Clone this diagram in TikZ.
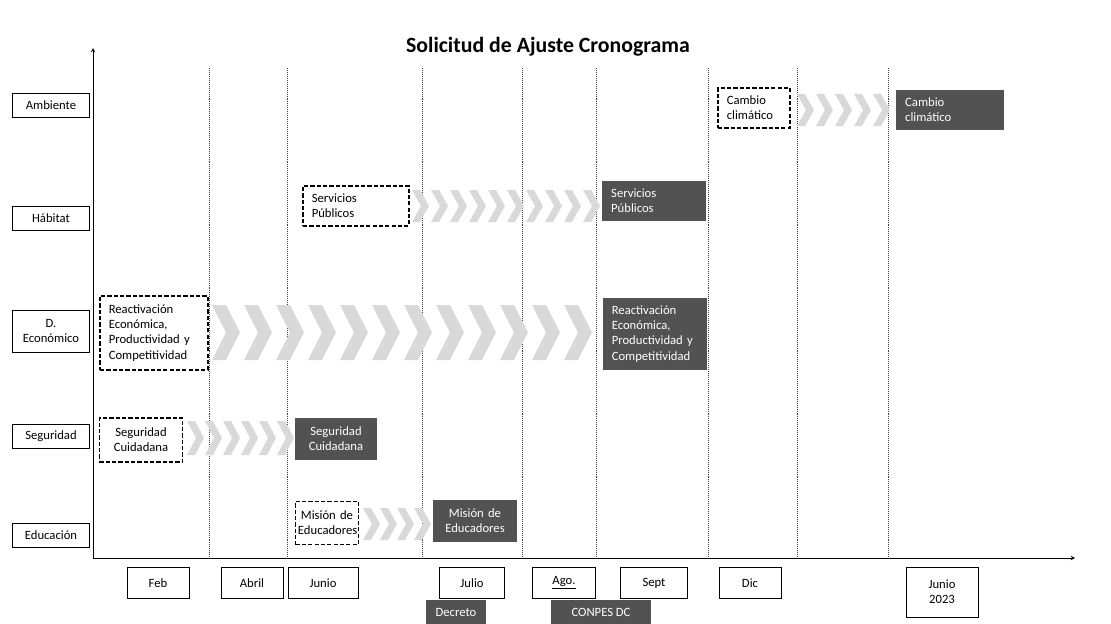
\documentclass[tikz,border=0pt]{standalone}
\usepackage{fontspec}
\setmainfont{Carlito}
\usepackage{tikz}

\begin{document}
\begin{tikzpicture}[x=0.025cm, y=-0.025cm,
  font=\fontsize{9}{10.8}\selectfont,
  rowbox/.style={draw, thin, minimum width=1.93cm, minimum height=0.6cm, align=center},
  monthbox/.style={draw, thin, minimum width=1.55cm, minimum height=0.78cm, align=center},
  planbox/.style={draw, thick, dash pattern=on 3pt off 1.5pt, inner xsep=0.22cm, align=left},
  donebox/.style={fill=black!68, text=white, inner xsep=0.22cm, align=left},
  chev/.style={fill=gray!30},
  month line/.style={densely dotted, thin, black!75}]
\useasboundingbox (0,0) rectangle (1111,624);

\node (title) at (548,47) {\fontsize{15.5}{18}\selectfont\bfseries Solicitud de Ajuste Cronograma};

% Axes.
\coordinate (origin) at (93,558);
\coordinate (ytop) at (93,48);
\coordinate (xend) at (1075,558);
\draw[->, >=stealth, thin] (origin) -- (ytop);
\draw[->, >=stealth, thin] (origin) -- (xend);

% Month separators.
\foreach \x in {209,287,422,522,596,708,797,888}
  \draw[month line] (\x,68) -- (\x,558);

% Rows.
\node[rowbox] (ambiente) at (51,105) {Ambiente};
\node[rowbox] (habitat) at (51,218) {Hábitat};
\node[rowbox, minimum height=1.05cm] (deco) at (51,331) {D.\\Económico};
\node[rowbox] (seguridad) at (51,436) {Seguridad};
\node[rowbox] (educacion) at (51,535) {Educación};

% Months.
\node[monthbox] (feb) at (158,583) {Feb};
\node[monthbox] (abril) at (252,583) {Abril};
\node[monthbox, minimum width=1.75cm] (junio) at (323,583) {Junio};
\node[monthbox, minimum width=1.63cm] (julio) at (472,583) {Julio};
\node[monthbox, minimum width=1.58cm] (ago) at (564,583) {\underline{Ago.}};
\node[monthbox, minimum width=1.68cm] (sept) at (654,583) {Sept};
\node[monthbox] (dic) at (750,583) {Dic};
\node[monthbox, minimum width=1.8cm, minimum height=1.25cm] (junio23) at (942,592) {Junio\\2023};
\node[donebox, minimum width=1.48cm, minimum height=0.6cm, align=center] (decreto) at (456,612) {Decreto};
\node[donebox, minimum width=2.5cm, minimum height=0.6cm, align=center] (conpes) at (601,612) {CONPES DC};

% Draw chevrons.
\foreach \i in {0,...,4}
  \fill[chev] ({797+19*\i},94) -- ++(8,0) -- ++(9,16) -- ++(-9,16) -- ++(-8,0) -- ++(9,-16) -- cycle;
\foreach \i in {0,...,9}
  \fill[chev] ({412+19*\i},190) -- ++(8,0) -- ++(9,16) -- ++(-9,16) -- ++(-8,0) -- ++(9,-16) -- cycle;
\foreach \i in {0,...,11}
  \fill[chev] ({212+32*\i},305) -- ++(14,0) -- ++(14,27.5) -- ++(-14,27.5) -- ++(-14,0) -- ++(14,-27.5) -- cycle;
\foreach \i in {0,...,5}
  \fill[chev] ({187+18*\i},421) -- ++(8,0) -- ++(9,17) -- ++(-9,17) -- ++(-8,0) -- ++(9,-17) -- cycle;
\foreach \i in {0,...,3}
  \fill[chev] ({363+17*\i},508) -- ++(8,0) -- ++(9,16) -- ++(-9,16) -- ++(-8,0) -- ++(9,-16) -- cycle;

% Planned and adjusted tasks.
\node[planbox, text width=1.36cm, minimum height=1cm] (cambio) at (754,108) {Cambio\\climático};
\node[donebox, text width=2.24cm, minimum height=1cm] (cambio2) at (950,110) {Cambio\\climático};

\node[planbox, text width=2.21cm, minimum height=1cm] (servicios) at (356,206) {Servicios\\Públicos};
\node[donebox, text width=2.14cm, minimum height=0.98cm] (servicios2) at (654,201) {Servicios\\Públicos};

\node[planbox, text width=2.26cm, minimum height=1.85cm] (reactivacion) at (154,333) {Reactivación\\Económica,\\Productividad y\\Competitividad};
\node[donebox, text width=2.16cm, minimum height=1.78cm] (reactivacion2) at (655,334) {Reactivación\\Económica,\\Productividad y\\Competitividad};

\node[planbox, text width=1.64cm, minimum height=1.1cm, align=center] (ciudadana) at (141,440) {Seguridad\\Cuidadana};
\node[donebox, text width=1.59cm, minimum height=1.05cm, align=center] (ciudadana2) at (336,439) {Seguridad\\Cuidadana};

\node[planbox, text width=1.45cm, inner xsep=0.06cm, minimum height=1.08cm, align=center] (mision) at (327,523) {Misión de\\Educadores};
\node[donebox, text width=1.66cm, minimum height=1.05cm, align=center] (mision2) at (475,521) {Misión de\\Educadores};

\end{tikzpicture}
\end{document}
